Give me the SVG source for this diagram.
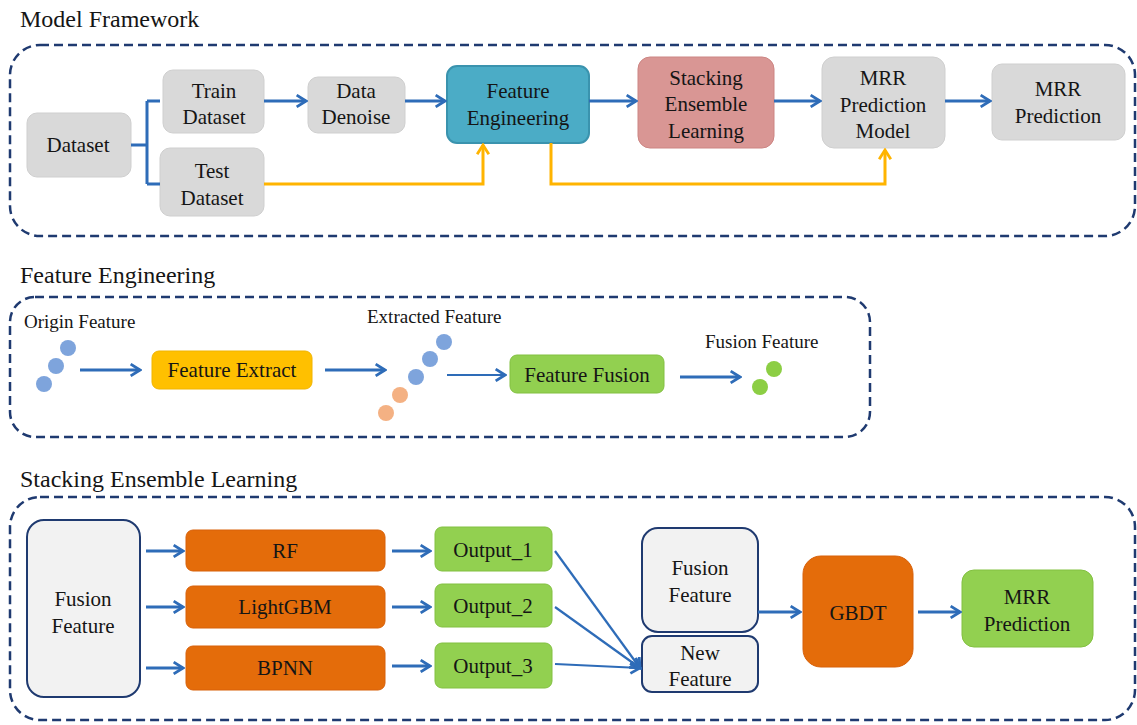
<svg xmlns="http://www.w3.org/2000/svg" width="1137" height="725" viewBox="0 0 1137 725">
<defs>
<style>
text{font-family:"Liberation Serif","Times New Roman",serif;fill:#151515;}
.t{font-size:24px;}
.b{font-size:21px;text-anchor:middle;}
.s{font-size:19px;}
.frame{fill:none;stroke:#1f3a70;stroke-width:2.5;stroke-dasharray:9 5;}
.gray{fill:#d9d9d9;stroke:#cfcfcf;stroke-width:1;}
.teal{fill:#4bacc6;stroke:#3a93ae;stroke-width:2;}
.pink{fill:#d99694;stroke:#cc8583;stroke-width:1;}
.yel{fill:#ffc000;stroke:#f0b400;stroke-width:1;}
.grn{fill:#92d050;stroke:#82c040;stroke-width:1;}
.org{fill:#e46c0a;stroke:#d86008;stroke-width:1;}
.lt{fill:#f2f2f2;stroke:#1f3a70;stroke-width:2;}
.blue{fill:none;stroke:#2e6cb8;stroke-width:3;}
.bluet{fill:none;stroke:#2e6cb8;stroke-width:2.2;}
.gold{fill:none;stroke:#ffb400;stroke-width:3;}
.cb{fill:#7ea4dc;}
.co{fill:#f4b183;}
.cg{fill:#8cce44;}
</style>
<marker id="ab" viewBox="0 0 12 12" refX="10" refY="6" markerWidth="14" markerHeight="14" markerUnits="userSpaceOnUse" orient="auto">
<path d="M2,1 L10,6 L2,11" fill="none" stroke="#2e6cb8" stroke-width="2.4"/>
</marker>
<marker id="ay" viewBox="0 0 12 12" refX="10" refY="6" markerWidth="14" markerHeight="14" markerUnits="userSpaceOnUse" orient="auto">
<path d="M2,1 L10,6 L2,11" fill="none" stroke="#ffb400" stroke-width="2.4"/>
</marker>
</defs>
<rect width="1137" height="725" fill="#fff"/>

<!-- Section titles and frames -->
<text class="t" x="20" y="27">Model Framework</text>
<rect class="frame" x="10" y="45" width="1125" height="191" rx="30"/>
<text class="t" x="20" y="283">Feature Engineering</text>
<rect class="frame" x="10" y="297" width="860" height="140" rx="25"/>
<text class="t" x="20" y="487">Stacking Ensemble Learning</text>
<rect class="frame" x="10" y="497" width="1125" height="223" rx="30"/>

<!-- Model Framework nodes -->
<g id="dataset"><rect class="gray" x="27" y="113" width="104" height="64" rx="10"/><text class="b" x="78" y="152">Dataset</text></g>
<g id="train"><rect class="gray" x="163" y="70" width="101" height="63" rx="10"/><text class="b" x="214" y="98">Train</text><text class="b" x="214" y="124">Dataset</text></g>
<g id="test"><rect class="gray" x="160" y="148" width="104" height="68" rx="10"/><text class="b" x="212" y="178">Test</text><text class="b" x="212" y="205">Dataset</text></g>
<g id="denoise"><rect class="gray" x="308" y="77" width="97" height="56" rx="10"/><text class="b" x="356" y="98">Data</text><text class="b" x="356" y="124">Denoise</text></g>
<g id="fe"><rect class="teal" x="447" y="66" width="142" height="77" rx="10"/><text class="b" x="518" y="98">Feature</text><text class="b" x="518" y="125">Engineering</text></g>
<g id="sel"><rect class="pink" x="638" y="57" width="136" height="91" rx="12"/><text class="b" x="706" y="85">Stacking</text><text class="b" x="706" y="111">Ensemble</text><text class="b" x="706" y="138">Learning</text></g>
<g id="mrrmodel"><rect class="gray" x="822" y="57" width="123" height="91" rx="12"/><text class="b" x="883" y="85">MRR</text><text class="b" x="883" y="112">Prediction</text><text class="b" x="883" y="138">Model</text></g>
<g id="mrrpred1"><rect class="gray" x="992" y="64" width="133" height="76" rx="10"/><text class="b" x="1058" y="96">MRR</text><text class="b" x="1058" y="123">Prediction</text></g>

<!-- Feature Engineering nodes -->
<g id="origin"><text class="s" x="24" y="328">Origin Feature</text><circle class="cb" cx="68" cy="348" r="8"/><circle class="cb" cx="56" cy="366" r="8"/><circle class="cb" cx="44" cy="384" r="8"/></g>
<g id="extract"><rect class="yel" x="152" y="351" width="160" height="38" rx="7"/><text class="b" x="232" y="377">Feature Extract</text></g>
<g id="extracted"><text class="s" x="367" y="323">Extracted Feature</text><circle class="cb" cx="444" cy="342" r="8"/><circle class="cb" cx="430" cy="359" r="8"/><circle class="cb" cx="416" cy="377" r="8"/><circle class="co" cx="400" cy="395" r="8"/><circle class="co" cx="386" cy="413" r="8"/></g>
<g id="fusion"><rect class="grn" x="510" y="355" width="154" height="38" rx="7"/><text class="b" x="587" y="382">Feature Fusion</text></g>
<g id="fusionout"><text class="s" x="705" y="348">Fusion Feature</text><circle class="cg" cx="774" cy="369" r="8"/><circle class="cg" cx="760" cy="387" r="8"/></g>

<!-- Stacking nodes -->
<g id="ff1"><rect class="lt" x="27" y="520" width="113" height="177" rx="17"/><text class="b" x="83" y="606">Fusion</text><text class="b" x="83" y="633">Feature</text></g>
<g id="rf"><rect class="org" x="186" y="530" width="199" height="41" rx="7"/><text class="b" x="285" y="558">RF</text></g>
<g id="lgbm"><rect class="org" x="186" y="586" width="199" height="42" rx="7"/><text class="b" x="285" y="614">LightGBM</text></g>
<g id="bpnn"><rect class="org" x="186" y="646" width="199" height="44" rx="7"/><text class="b" x="285" y="675">BPNN</text></g>
<g id="o1"><rect class="grn" x="435" y="527" width="117" height="44" rx="7"/><text class="b" x="493" y="557">Output_1</text></g>
<g id="o2"><rect class="grn" x="435" y="584" width="117" height="43" rx="7"/><text class="b" x="493" y="613">Output_2</text></g>
<g id="o3"><rect class="grn" x="435" y="643" width="117" height="45" rx="7"/><text class="b" x="493" y="673">Output_3</text></g>
<g id="ff2"><rect class="lt" x="642" y="528" width="116" height="104" rx="16"/><text class="b" x="700" y="575">Fusion</text><text class="b" x="700" y="602">Feature</text></g>
<g id="newf"><rect class="lt" x="642" y="636" width="116" height="56" rx="10"/><text class="b" x="700" y="660">New</text><text class="b" x="700" y="686">Feature</text></g>
<g id="gbdt"><rect class="org" x="803" y="556" width="110" height="111" rx="18"/><text class="b" x="858" y="620">GBDT</text></g>
<g id="mrrpred2"><rect class="grn" x="962" y="570" width="131" height="77" rx="12"/><text class="b" x="1027" y="604">MRR</text><text class="b" x="1027" y="631">Prediction</text></g>

<!-- Connectors -->
<g id="connectors">
<path class="blue" d="M131,145 H147 M147,101 V184 M147,101 H160 M147,184 H160"/>
<path class="blue" d="M264,101 H306" marker-end="url(#ab)"/>
<path class="blue" d="M405,101 H445" marker-end="url(#ab)"/>
<path class="blue" d="M589,101 H636" marker-end="url(#ab)"/>
<path class="blue" d="M774,101 H820" marker-end="url(#ab)"/>
<path class="blue" d="M945,101 H990" marker-end="url(#ab)"/>
<path class="gold" d="M264,184 H483 V145" marker-end="url(#ay)"/>
<path class="gold" d="M551,143 V184 H885 V150" marker-end="url(#ay)"/>

<path class="blue" d="M80,370 H140" marker-end="url(#ab)"/>
<path class="blue" d="M325,370 H385" marker-end="url(#ab)"/>
<path class="bluet" d="M447,375 H505" marker-end="url(#ab)"/>
<path class="blue" d="M680,377 H740" marker-end="url(#ab)"/>

<path class="blue" d="M146,551 H183" marker-end="url(#ab)"/>
<path class="blue" d="M146,607 H183" marker-end="url(#ab)"/>
<path class="blue" d="M146,668 H183" marker-end="url(#ab)"/>
<path class="blue" d="M392,551 H430" marker-end="url(#ab)"/>
<path class="blue" d="M392,607 H430" marker-end="url(#ab)"/>
<path class="blue" d="M392,666 H430" marker-end="url(#ab)"/>
<path class="bluet" d="M555,551 L640,668" marker-end="url(#ab)"/>
<path class="bluet" d="M555,607 L640,668" marker-end="url(#ab)"/>
<path class="bluet" d="M555,664 L640,668" marker-end="url(#ab)"/>
<path class="blue" d="M758,612 H800" marker-end="url(#ab)"/>
<path class="blue" d="M918,612 H960" marker-end="url(#ab)"/>
</g>
</svg>
